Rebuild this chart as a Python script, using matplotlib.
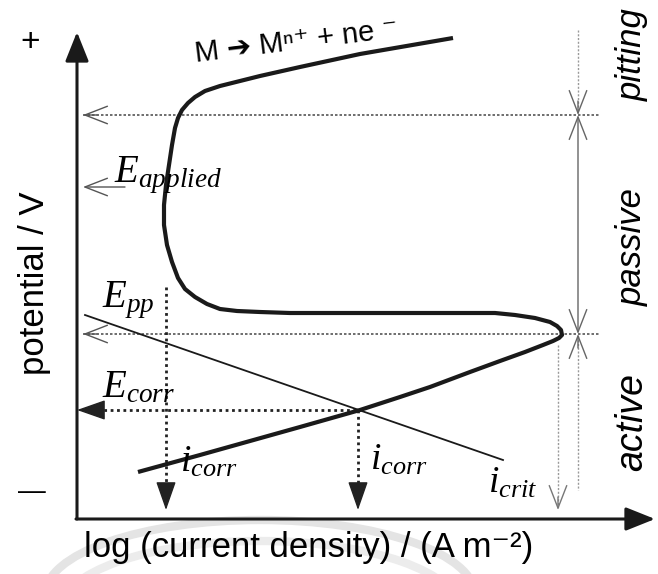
import numpy as np
import matplotlib.pyplot as plt
from matplotlib.patches import Arc

plt.rcParams['font.family'] = ['Liberation Sans', 'DejaVu Sans']
plt.rcParams['mathtext.fontset'] = 'custom'
plt.rcParams['mathtext.it'] = 'Liberation Serif:italic'
plt.rcParams['mathtext.rm'] = 'Liberation Sans'

# anodic polarisation curve (log i, E), schematic units from the origin:
# active branch up to the nose, back along the passivation drop, up the passive
# range and out into pitting
anodic_x = np.array([61, 123, 173, 223, 283, 323, 353, 393, 423, 448, 466, 476, 482, 485,
                     484, 480, 473, 458, 438, 418, 396, 213, 183, 160, 143, 130, 118,
                     108, 101, 95, 90, 87, 87, 89, 92, 95, 98, 101, 105, 111, 118, 128,
                     143, 163, 183, 223, 283, 376])
anodic_y = np.array([47, 64, 78, 92, 109, 122, 132, 147, 158, 167, 174, 178, 181, 184,
                     189, 193, 197, 201, 204, 206, 206, 206, 207, 208, 210, 215, 222,
                     230, 241, 257, 274, 294, 314, 334, 354, 374, 391, 401, 409, 416,
                     422, 428, 433, 438, 443, 452, 465, 481])

# cathodic (reduction) line
cath_x = np.array([8, 426])
cath_y = np.array([204, 59])

# characteristic potentials and currents
E_pit = 404
E_applied = 332
E_pp = 185
E_corr = 109
i_pass = 89
i_corr = 281
i_crit = 481
x_regions = 501

fig = plt.figure(figsize=(6.58, 5.74), dpi=100)
ax = fig.add_axes([0, 0, 1, 1])
ax.set_xlim(-77, 581)
ax.set_ylim(-55, 519)
ax.axis('off')

# faint background arcs
ax.add_patch(Arc((183, -76), 430, 150, theta1=0, theta2=180, color='#e4e4e4', lw=6, zorder=0))
ax.add_patch(Arc((183, -92), 400, 140, theta1=0, theta2=180, color='#ececec', lw=6, zorder=0))

# axes with filled arrowheads
ax.annotate('', xy=(0, 487), xytext=(0, 0),
            arrowprops=dict(arrowstyle='-|>,head_length=1.0,head_width=0.4', lw=2.2,
                            color='#1a1a1a', mutation_scale=18, shrinkA=0, shrinkB=0))
ax.annotate('', xy=(578, 0), xytext=(-1, 0),
            arrowprops=dict(arrowstyle='-|>,head_length=1.0,head_width=0.4', lw=2.2,
                            color='#1a1a1a', mutation_scale=18, shrinkA=0, shrinkB=0))

dot_kw = dict(color='#555555', lw=1.2, ls=(0, (1.5, 1.2)))
dark_dot = dict(color='#222222', lw=2.0, ls=(0, (1, 1.3)))
light_dot = dict(color='#9a9a9a', lw=1.0, ls=(0, (1.5, 1.2)))
open_head = dict(arrowstyle='->,head_length=0.9,head_width=0.35', lw=1.0,
                 color='#555555', mutation_scale=18, shrinkA=0, shrinkB=0)
filled_head = dict(arrowstyle='-|>,head_length=1.0,head_width=0.35', lw=1.0,
                   color='#222222', mutation_scale=18, shrinkA=0, shrinkB=0)

# horizontal guides
ax.plot([6, 523], [E_pit, E_pit], **dot_kw)
ax.annotate('', xy=(6, E_pit), xytext=(20, E_pit), arrowprops=open_head)
ax.annotate('', xy=(6, E_applied), xytext=(48, E_applied), arrowprops=open_head)
ax.plot([6, 523], [E_pp, E_pp], **dot_kw)
ax.annotate('', xy=(6, E_pp), xytext=(20, E_pp), arrowprops=open_head)
ax.plot([14, i_corr], [E_corr, E_corr], **dark_dot)
ax.annotate('', xy=(0, E_corr), xytext=(16, E_corr), arrowprops=filled_head)

# vertical guides to the current axis
ax.plot([i_pass, i_pass], [232, 22], **dark_dot)
ax.annotate('', xy=(i_pass, 9), xytext=(i_pass, 24), arrowprops=filled_head)
ax.plot([i_corr, i_corr], [E_corr, 22], **dark_dot)
ax.annotate('', xy=(i_corr, 9), xytext=(i_corr, 24), arrowprops=filled_head)
ax.plot([i_crit, i_crit], [174, 12], **light_dot)
ax.annotate('', xy=(i_crit, 9), xytext=(i_crit, 22),
            arrowprops=dict(open_head, color='#777777'))

# region bar on the right
ax.plot([x_regions, x_regions], [489, E_pit + 2], **light_dot)
ax.plot([x_regions, x_regions], [E_pp - 2, 29], **light_dot)
ax.annotate('', xy=(x_regions, E_pit), xytext=(x_regions, E_pp),
            arrowprops=dict(arrowstyle='<->,head_length=0.9,head_width=0.35', lw=1.0,
                            color='#666666', mutation_scale=18, shrinkA=0, shrinkB=0))
ax.annotate('', xy=(x_regions, E_pit), xytext=(x_regions, E_pit + 14),
            arrowprops=dict(open_head, color='#666666'))
ax.annotate('', xy=(x_regions, E_pp), xytext=(x_regions, E_pp - 14),
            arrowprops=dict(open_head, color='#666666'))

# curves
ax.plot(cath_x, cath_y, color='#1a1a1a', lw=1.3)
ax.plot(anodic_x, anodic_y, color='#1a1a1a', lw=3.0, solid_joinstyle='round',
        solid_capstyle='butt')

# text
ax.text(-47, 477, '+', fontsize=24, ha='center', va='center')
ax.text(-45, 27, '\u2014', fontsize=20, ha='center', va='center')
ax.text(-42, 236, 'potential / V', fontsize=25, rotation=90, ha='center', va='center')
ax.text(232, -29, 'log (current density) / (A m\u207b\u00b2)', fontsize=25,
        ha='center', va='center')
ax.text(116, 457, 'M \u2794 M\u207f\u207a + ne \u207b', fontsize=21,
        rotation=7, ha='left', va='baseline')
ax.text(555, 464, 'pitting', fontsize=25, style='italic', rotation=90, ha='center', va='center')
ax.text(555, 272, 'passive', fontsize=25, style='italic', rotation=90, ha='center', va='center')
ax.text(555, 97, 'active', fontsize=27, style='italic', rotation=90, ha='center', va='center')

ax.text(37, 337, '$E_{applied}$', fontsize=28, va='baseline')
ax.text(25, 212, '$E_{pp}$', fontsize=28, va='baseline')
ax.text(25, 122, '$E_{corr}$', fontsize=28, va='baseline')
ax.text(103, 47, '$i_{corr}$', fontsize=27, va='baseline')
ax.text(293, 49, '$i_{corr}$', fontsize=27, va='baseline')
ax.text(411, 26, '$i_{crit}$', fontsize=27, va='baseline')

fig.savefig('out.png', dpi=100)
